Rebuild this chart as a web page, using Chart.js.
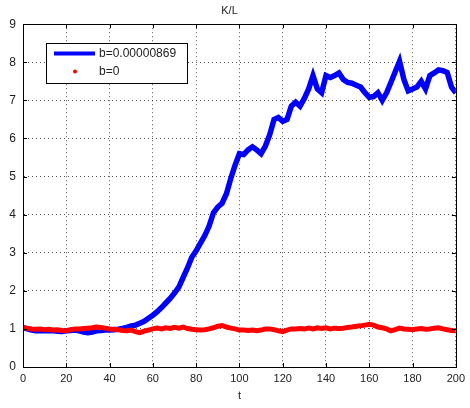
<!DOCTYPE html>
<html lang="en">
<head>
    <meta charset="UTF-8">
    <title>K/L</title>
    <style>
        body { margin: 0; padding: 0; background: #fff; }
        #wrap { width: 470px; height: 408px; }
    </style>
</head>
<body>
    <div id="wrap"><canvas id="myChart" width="470" height="408"></canvas></div>

    <script src="https://cdn.jsdelivr.net/npm/chart.js"></script>
    <script>
        // time steps (every 2 units)
        const tValues = [];
        for (let t = 0; t <= 200; t += 2) tValues.push(t);

        // b = 0.00000869
        const blueValues = [
            1.03, 1.00, 0.97, 0.95, 0.96, 0.95, 0.96, 0.95, 0.94, 0.93,
            0.95, 0.96, 0.97, 0.95, 0.92, 0.90, 0.92, 0.95, 0.96, 0.97,
            0.97, 0.98, 0.99, 1.01, 1.04, 1.08, 1.10, 1.15, 1.20, 1.28,
            1.36, 1.45, 1.56, 1.68, 1.80, 1.94, 2.10, 2.35, 2.60, 2.88,
            3.05, 3.25, 3.45, 3.70, 4.05, 4.20, 4.30, 4.55, 4.95, 5.30,
            5.60, 5.58, 5.70, 5.78, 5.70, 5.60, 5.80, 6.10, 6.50, 6.55,
            6.45, 6.50, 6.85, 6.95, 6.85, 7.05, 7.30, 7.65, 7.30, 7.20,
            7.65, 7.60, 7.65, 7.72, 7.55, 7.47, 7.45, 7.40, 7.35, 7.20,
            7.08, 7.10, 7.20, 7.00, 7.20, 7.47, 7.75, 8.03, 7.55, 7.25,
            7.30, 7.35, 7.50, 7.30, 7.65, 7.72, 7.80, 7.78, 7.73, 7.35,
            7.20
        ];

        // b = 0
        const redValues = [
            1.03, 1.02, 1.00, 0.99, 1.00, 0.98, 0.99, 0.97, 0.98, 0.96,
            0.95, 0.98, 1.00, 1.00, 1.01, 1.02, 1.03, 1.05, 1.04, 1.02,
            1.00, 0.99, 0.98, 0.96, 0.95, 0.97, 0.93, 0.90, 0.94, 0.97,
            1.00, 1.02, 1.00, 1.03, 1.01, 1.04, 1.02, 1.05, 1.01, 0.99,
            0.98, 0.97, 0.98, 1.00, 1.03, 1.07, 1.09, 1.05, 1.02, 1.00,
            0.97, 0.97, 0.96, 0.97, 0.95, 0.97, 1.00, 1.00, 0.98, 0.95,
            0.93, 0.97, 1.00, 1.00, 1.01, 1.00, 1.02, 1.00, 1.03, 1.01,
            1.03, 1.00, 1.02, 1.01, 1.02, 1.04, 1.05, 1.07, 1.08, 1.10,
            1.12, 1.10, 1.05, 1.03, 1.00, 0.95, 0.98, 1.02, 1.00, 0.99,
            0.98, 1.00, 1.01, 0.99, 1.00, 1.02, 1.03, 1.00, 0.98, 0.96,
            0.95
        ];

        const seriesLabels = ['b=0.00000869', 'b=0'];
        const xTicks = [0, 20, 40, 60, 80, 100, 120, 140, 160, 180, 200];
        const yTicks = [0, 1, 2, 3, 4, 5, 6, 7, 8, 9];

        const FONT = 'Liberation Sans, Arial, Helvetica, sans-serif';
        const TEXT = '#222';

        // box round the plot, inward ticks and the legend (MATLAB look)
        const matlabBox = {
            id: 'matlabBox',
            afterDatasetsDraw(chart) {
                const {ctx, chartArea: a, scales} = chart;
                ctx.save();
                ctx.strokeStyle = '#000';
                ctx.lineWidth = 1;
                ctx.strokeRect(Math.round(a.left) + 0.5, Math.round(a.top) + 0.5,
                    Math.round(a.right - a.left), Math.round(a.bottom - a.top));
                ctx.beginPath();
                xTicks.forEach(v => {
                    const x = Math.round(scales.x.getPixelForValue(v)) + 0.5;
                    ctx.moveTo(x, a.bottom); ctx.lineTo(x, a.bottom - 4);
                    ctx.moveTo(x, a.top); ctx.lineTo(x, a.top + 4);
                });
                yTicks.forEach(v => {
                    const y = Math.round(scales.y.getPixelForValue(v)) + 0.5;
                    ctx.moveTo(a.left, y); ctx.lineTo(a.left + 4, y);
                    ctx.moveTo(a.right, y); ctx.lineTo(a.right - 4, y);
                });
                ctx.stroke();

                // legend
                const lx = 46, ly = 43, lw = 141, lh = 40;
                ctx.fillStyle = '#fff';
                ctx.fillRect(lx, ly, lw, lh);
                ctx.strokeRect(lx + 0.5, ly + 0.5, lw, lh);
                const ds = chart.data.datasets;
                // size the legend text so the long label fills ~83px like the original
                let fs = 12;
                ctx.font = fs + 'px ' + FONT;
                fs = Math.min(12, fs * 83 / ctx.measureText(ds[0].label).width);
                ctx.font = fs.toFixed(1) + 'px ' + FONT;
                ctx.textBaseline = 'middle';
                ctx.textAlign = 'left';
                // blue line sample
                ctx.strokeStyle = ds[0].borderColor;
                ctx.lineWidth = 4;
                ctx.beginPath();
                ctx.moveTo(54, 53.5); ctx.lineTo(95, 53.5);
                ctx.stroke();
                ctx.fillStyle = TEXT;
                ctx.fillText(ds[0].label, 99, 54);
                // red dot sample
                ctx.fillStyle = ds[1].borderColor;
                ctx.beginPath();
                ctx.arc(75, 71.5, 2, 0, Math.PI * 2);
                ctx.fill();
                ctx.fillStyle = TEXT;
                ctx.fillText(ds[1].label, 99, 72);
                ctx.restore();
            }
        };

        const ctx = document.getElementById('myChart').getContext('2d');
        const chart = new Chart(ctx, {
            type: 'line',
            data: {
                labels: tValues,
                datasets: [{
                    label: seriesLabels[0],
                    data: tValues.map((t, i) => ({x: t, y: blueValues[i]})),
                    borderColor: '#0000ff',
                    borderWidth: 5.5,
                    pointRadius: 0,
                    tension: 0,
                    order: 1
                }, {
                    label: seriesLabels[1],
                    data: tValues.map((t, i) => ({x: t, y: redValues[i]})),
                    borderColor: '#ff0000',
                    borderWidth: 5,
                    pointRadius: 0,
                    tension: 0,
                    order: 0
                }]
            },
            options: {
                responsive: false,
                animation: false,
                devicePixelRatio: 1,
                layout: { autoPadding: false, padding: { left: 0, right: 11, top: 0, bottom: 0 } },
                plugins: {
                    legend: { display: false },
                    tooltip: { enabled: false },
                    title: {
                        display: true,
                        text: 'K/L',
                        color: TEXT,
                        font: { family: FONT, size: 11, weight: 'normal' },
                        padding: { top: 4, bottom: 7 }
                    }
                },
                scales: {
                    x: {
                        type: 'linear',
                        min: 0,
                        max: 200,
                        afterFit: s => { s.height = 41; },
                        afterBuildTicks: s => { s.ticks = xTicks.map(v => ({value: v})); },
                        ticks: { color: TEXT, font: { family: FONT, size: 11 }, padding: 5, maxRotation: 0 },
                        grid: { color: 'rgba(0,0,0,0.65)', drawTicks: false, lineWidth: 1 },
                        border: { display: true, color: '#000', dash: [1, 3] },
                        title: {
                            display: true, text: 't', color: TEXT,
                            font: { family: FONT, size: 11 },
                            padding: { top: 0, bottom: 5 }
                        }
                    },
                    y: {
                        min: 0,
                        max: 9,
                        afterFit: s => { s.width = 23; },
                        afterBuildTicks: s => { s.ticks = yTicks.map(v => ({value: v})); },
                        ticks: { color: TEXT, font: { family: FONT, size: 12 }, padding: 7 },
                        grid: { color: 'rgba(0,0,0,0.65)', drawTicks: false, lineWidth: 1 },
                        border: { display: true, color: '#000', dash: [1, 3] }
                    }
                }
            },
            plugins: [matlabBox]
        });
    </script>
</body>
</html>
